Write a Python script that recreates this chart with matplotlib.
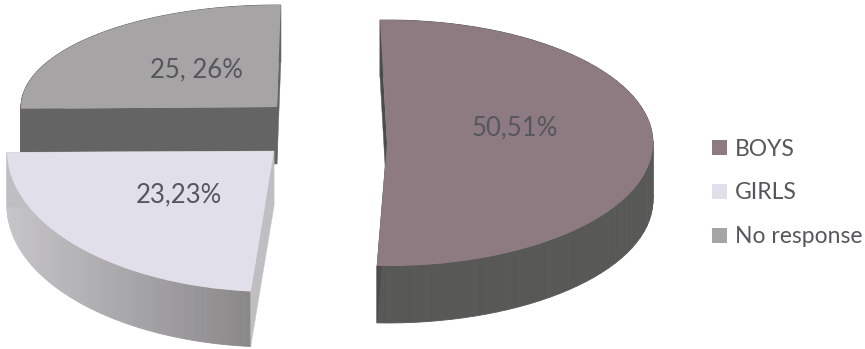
import numpy as np
import matplotlib
matplotlib.use("Agg")
import matplotlib.pyplot as plt
from matplotlib.colors import to_rgb
from matplotlib.patches import Patch

plt.rcParams['font.family'] = ['Lato', 'DejaVu Sans']

categories = ["BOYS", "GIRLS", "No response"]
values = [50.51, 23.23, 25.26]
value_labels = ["50,51%", "23,23%", "25, 26%"]

W, H = 865, 349
fig = plt.figure(figsize=(W / 100, H / 100), dpi=100)

total = sum(values)
spans = [v / total * 360 for v in values]
before = [sum(spans[:i]) for i in range(3)]

# slice geometry in pixels: tip x, tip y, x radius, y radius, depth, clockwise start from 12 o'clock
geom = [(387, 143, 266, 123, 57, -1.5),
        (274, 151, 267, 141, 55, 185.0),
        (277, 107, 256, 102, 57, 269.0)]
top_cols = ["#8e7b81", "#e1dfea", "#a6a4a4"]
side_from = ["#585957", "#c6c5c9", "#636463"]
side_to = ["#585957", "#8a8889", "#636463"]
cut_cols = ["#4c4d4b", "#bfbec2", "#636463"]
label_xy = [(515, 128), (179, 195), (196, 70)]


def pt(a):
    r = np.radians(a)
    return np.sin(r), np.cos(r)


for i in [2, 1, 0]:
    cx, cy, rx, ry, depth, start = geom[i]
    ax = fig.add_axes([0, 0, 1, 1])
    cols = ['none', 'none', 'none']
    cols[i] = top_cols[i]
    end = start + spans[i]
    d = depth / ry

    # outer wall, one small piece per step so the shade can change along it
    steps = np.linspace(start, end, 70)
    c0, c1 = np.array(to_rgb(side_from[i])), np.array(to_rgb(side_to[i]))
    xs = [pt(a)[0] for a in steps]
    for j in range(len(steps) - 1):
        x0, y0 = pt(steps[j])
        x1, y1 = pt(steps[j + 1])
        t = (x0 - min(xs)) / (max(xs) - min(xs) + 1e-9)
        col = c0 + (c1 - c0) * t
        ax.fill([x0, x1, x1, x0], [y0, y1, y1 - d, y0 - d], color=col, lw=0.6, zorder=1)

    # cut faces
    for a in (start, end):
        x, y = pt(a)
        ax.fill([0, x, x, 0], [0, y, y - d, -d], color=cut_cols[i], lw=0.3, zorder=2)

    wedges = ax.pie(values, colors=cols, startangle=90 - (start - before[i]), counterclock=False,
                    wedgeprops=dict(linewidth=0), normalize=True)[0]
    for w in wedges:
        w.set_zorder(3)
    ax.set_aspect('auto')
    ax.set_xlim(-cx / rx, (W - cx) / rx)
    ax.set_ylim(-(H - cy) / ry, cy / ry)
    ax.patch.set_alpha(0)
    ax.axis('off')

for lab, (x, y) in zip(value_labels, label_xy):
    fig.text(x / W, 1 - y / H, lab, color="#55575a", fontsize=18.5, ha='center', va='center')

handles = [Patch(facecolor=top_cols[i], edgecolor='none') for i in range(3)]
fig.legend(handles, categories, loc='center left', bbox_to_anchor=(712 / W, 1 - 193 / H),
           frameon=False, fontsize=16.5, labelcolor="#555759", handlelength=0.65, handleheight=0.65,
           handletextpad=0.35, labelspacing=1.0, borderpad=0, borderaxespad=0)

fig.savefig("out.png", dpi=100)
plt.close()
